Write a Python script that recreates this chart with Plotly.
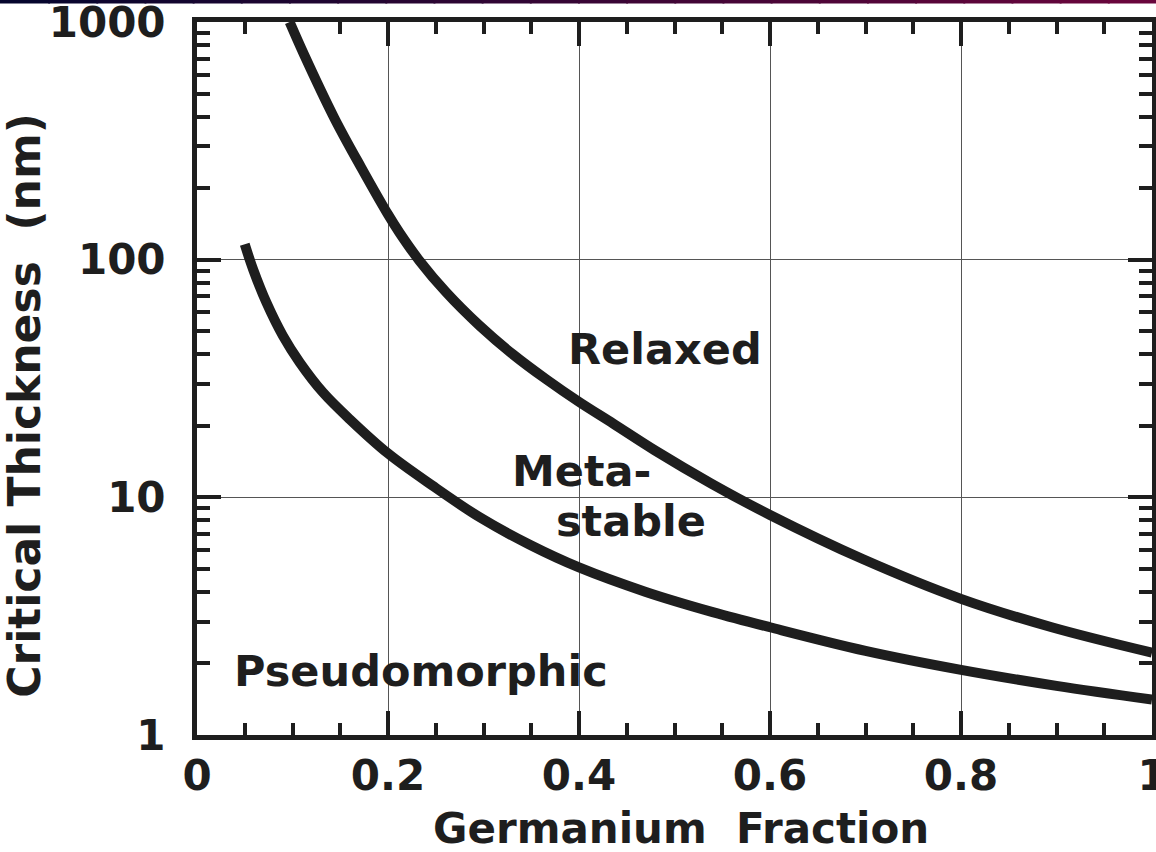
import plotly.graph_objects as go

# Relaxed / metastable boundary (upper curve)
upper_x = [0.097, 0.112, 0.144, 0.172, 0.2, 0.212, 0.233, 0.261, 0.296, 0.331, 0.366, 0.4,
           0.436, 0.479, 0.539, 0.6, 0.697, 0.8, 0.895, 1.0]
upper_y = [1000, 731, 393, 244, 155, 130, 98.9, 72.8, 52.7, 39.9, 31.3, 25.2,
           20.4, 15.8, 11.4, 8.43, 5.5, 3.74, 2.84, 2.22]

# Metastable / pseudomorphic boundary (lower curve)
lower_x = [0.05, 0.0588, 0.0727, 0.09, 0.1075, 0.132, 0.16, 0.2, 0.2466, 0.297, 0.349, 0.4,
           0.47, 0.54, 0.6, 0.7, 0.8, 0.9, 1.0]
lower_y = [116, 91, 66, 47.8, 37, 27.6, 21.3, 15.3, 11.2, 8.2, 6.3, 5.07,
           4.0, 3.29, 2.84, 2.26, 1.88, 1.61, 1.41]

region_labels = ["Relaxed", "Meta-", "stable", "Pseudomorphic"]
region_x = [0.49, 0.403, 0.454, 0.2345]
region_logy = [1.625, 1.109, 0.899, 0.269]

x_title = "Germanium  Fraction"
y_title = "Critical Thickness  (nm)"

FONT = "DejaVu Sans"
INK = "#1e1e1e"

fig = go.Figure()
fig.add_trace(go.Scatter(x=upper_x, y=upper_y, mode="lines",
                         line=dict(color=INK, width=10, shape="spline", smoothing=1.0),
                         showlegend=False, hoverinfo="skip"))
fig.add_trace(go.Scatter(x=lower_x, y=lower_y, mode="lines",
                         line=dict(color=INK, width=10, shape="spline", smoothing=1.0),
                         showlegend=False, hoverinfo="skip"))

for t, xx, yy in zip(region_labels, region_x, region_logy):
    fig.add_annotation(x=xx, y=yy, xref="x", yref="y", text=t,
                       xanchor="center", yanchor="middle", showarrow=False,
                       font=dict(family=FONT, size=43, color=INK, weight="bold"))

# axis titles as annotations for placement control
fig.add_annotation(x=0.507, y=-0.1305, xref="paper", yref="paper", text=x_title,
                   xanchor="center", yanchor="middle", showarrow=False,
                   font=dict(family=FONT, size=42, color=INK, weight="bold"))
fig.add_annotation(x=-0.180, y=0.4618, xref="paper", yref="paper", text=y_title,
                   xanchor="center", yanchor="middle", textangle=-90, showarrow=False,
                   font=dict(family=FONT, size=44, color=INK, weight="bold"))

# top decorative gradient bar
n = 24
c0 = (5, 5, 45)
c1 = (105, 5, 60)
xa, xb = -197 / 955, (1156 - 197) / 955
for i in range(n):
    f = i / (n - 1)
    col = "rgb(%d,%d,%d)" % tuple(round(c0[k] + (c1[k] - c0[k]) * f) for k in range(3))
    fig.add_shape(type="rect", xref="paper", yref="paper",
                  x0=xa + (xb - xa) * i / n, x1=xa + (xb - xa) * (i + 1) / n + 0.002,
                  y0=(735 - 4) / 712.5, y1=(735 + 2) / 712.5,
                  line=dict(width=0), fillcolor=col, layer="above")

fig.update_layout(
    width=1156, height=852,
    margin=dict(l=197, r=4, t=22, b=117, autoexpand=False),
    paper_bgcolor="white", plot_bgcolor="white",
    font=dict(family=FONT, color=INK),
)

fig.update_xaxes(
    range=[0, 1], dtick=0.2, tick0=0, automargin=False,
    showline=True, linewidth=5, linecolor=INK, mirror="allticks",
    ticks="inside", ticklen=24, tickwidth=4, tickcolor=INK,
    minor=dict(ticks="inside", ticklen=12, tickwidth=4, tickcolor=INK, dtick=0.05, showgrid=False),
    showgrid=True, gridcolor="#555555", gridwidth=1,
    zeroline=False,
    tickfont=dict(family=FONT, size=42, color=INK, weight="bold"),
    ticklabelstandoff=0, ticklabeloverflow="allow",
)
fig.update_yaxes(
    type="log", range=[0, 3], dtick=1, tick0=0, exponentformat="none", automargin=False,
    showline=True, linewidth=5, linecolor=INK, mirror="allticks",
    ticks="inside", ticklen=24, tickwidth=4, tickcolor=INK,
    minor=dict(ticks="inside", ticklen=13, tickwidth=4, tickcolor=INK, dtick="D1", showgrid=False),
    showgrid=True, gridcolor="#555555", gridwidth=1,
    zeroline=False,
    tickfont=dict(family=FONT, size=42, color=INK, weight="bold"),
    ticklabelstandoff=18, ticklabeloverflow="allow",
)

fig.write_html("out.html")
